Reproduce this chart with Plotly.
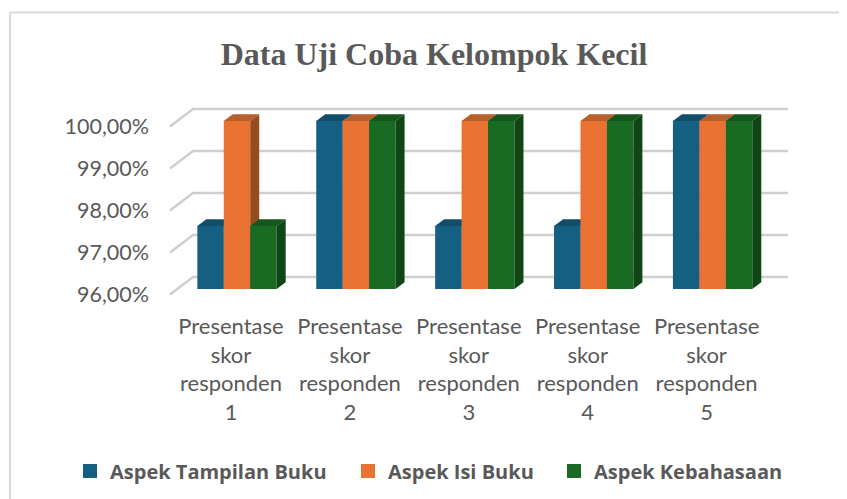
import plotly.graph_objects as go

categories = ["Presentase<br>skor<br>responden<br>1", "Presentase<br>skor<br>responden<br>2",
              "Presentase<br>skor<br>responden<br>3", "Presentase<br>skor<br>responden<br>4",
              "Presentase<br>skor<br>responden<br>5"]
series_names = ["Aspek Tampilan Buku", "Aspek Isi Buku", "Aspek Kebahasaan"]
tampilan = [97.5, 100.0, 97.5, 97.5, 100.0]
isi = [100.0, 100.0, 100.0, 100.0, 100.0]
kebahasaan = [97.5, 100.0, 100.0, 100.0, 100.0]
y_ticks = [96, 97, 98, 99, 100]
y_labels = ["96,00%", "97,00%", "98,00%", "99,00%", "100,00%"]
front = ["#156082", "#E97132", "#196B24"]
top = ["#124E69", "#B85F2E", "#14561D"]
side = ["#0F4761", "#974C20", "#104516"]
all_series = [tampilan, isi, kebahasaan]

# Screen pixel layout (the page body adds an 8 px margin round the figure)
OFF = 8
SW, SH = 847, 499
W, H = SW, SH
PL, PR, PT, PB = 150, 800, 95, 300
PX_X = 118.9          # px per category
PX_Y = 42.0           # px per percent
X0_PX, Y0_PX = 237.0, 289.0   # pixel of category 0 / 96 %
x_range = [(PL - X0_PX) / PX_X, (PR - X0_PX) / PX_X]
y_range = [96 + (Y0_PX - PB) / PX_Y, 96 + (Y0_PX - PT) / PX_Y]
bar_w = 26.45 / PX_X
dx, dy = 9.0 / PX_X, 6.7 / PX_Y

def px(p): return (p - PL) / (PR - PL)
def py(p): return (PB - p) / (PB - PT)
def cx(p): return (p - OFF) / W
def cy(p): return 1 - (p - OFF) / H

fig = go.Figure()

# walls: gridlines with their diagonal on the side wall
gx, gy = [], []
for t in y_ticks:
    gx += [(170 - X0_PX) / PX_X, (193 - X0_PX) / PX_X, (788 - X0_PX) / PX_X, None]
    gy += [t - 5.5 / PX_Y, t + 12 / PX_Y, t + 12 / PX_Y, None]
fig.add_trace(go.Scatter(x=gx, y=gy, mode="lines", line=dict(color="#CFCFCF", width=2.5),
                         showlegend=False, hoverinfo="skip", xaxis="x", yaxis="y"))

for j, (name, vals) in enumerate(zip(series_names, all_series)):
    xa, ya = f"x{j + 2}", f"y{j + 2}"
    centers = [i + (j - 1) * bar_w for i in range(len(vals))]
    tx, ty, sx, sy = [], [], [], []
    for c, v in zip(centers, vals):
        l, r = c - bar_w / 2, c + bar_w / 2
        tx += [l, r, r + dx, l + dx, l, None]
        ty += [v, v, v + dy, v + dy, v, None]
        sx += [r, r + dx, r + dx, r, r, None]
        sy += [96, 96 + dy, v + dy, v, 96, None]
    fig.add_trace(go.Bar(x=centers, y=[v - 96 for v in vals], base=96, width=bar_w,
                         marker=dict(color=front[j], line=dict(width=0)), name=name,
                         showlegend=False, xaxis=xa, yaxis=ya))
    for fx, fy, col in ((tx, ty, top[j]), (sx, sy, side[j])):
        fig.add_trace(go.Scatter(x=fx, y=fy, mode="lines", fill="toself", fillcolor=col,
                                 line=dict(width=0), showlegend=False, hoverinfo="skip",
                                 xaxis=xa, yaxis=ya))

# legend entries, one independent legend each so the uneven spacing can be kept
legend_ids = ["legend", "legend2", "legend3"]
legend_left = [70, 348, 554]
for j, name in enumerate(series_names):
    fig.add_trace(go.Scatter(x=[None], y=[None], mode="markers", name=name, legend=legend_ids[j],
                             marker=dict(symbol="square", size=14, color=front[j])))

layout = dict(
    width=W, height=H, autosize=False,
    margin=dict(l=PL - OFF, r=W + OFF - PR, t=PT - OFF, b=H + OFF - PB),
    paper_bgcolor="white", plot_bgcolor="rgba(0,0,0,0)",
    title=dict(text="<b>Data Uji Coba Kelompok Kecil</b>", x=cx(434), xanchor="center",
               y=cy(54), yanchor="middle",
               font=dict(family="Liberation Serif", size=32, color="#595959")),
    xaxis=dict(range=x_range, tickmode="array", tickvals=[i - 6 / PX_X for i in range(5)],
               ticktext=categories, showgrid=False, zeroline=False, showline=False, ticks="",
               ticklabelstandoff=11, tickangle=0, automargin=False,
               tickfont=dict(family="Lato", size=22, color="#595959")),
    yaxis=dict(range=y_range, tickmode="array", tickvals=[t - 5 / PX_Y for t in y_ticks],
               ticktext=y_labels, showgrid=False, zeroline=False, showline=False, ticks="",
               automargin=False,
               tickfont=dict(family="Lato", size=21.5, color="#595959")),
    barmode="overlay",
    shapes=[dict(type="line", xref="paper", yref="paper", x0=px(10), x1=px(SW + OFF), y0=py(12.5), y1=py(12.5),
                 line=dict(color="#D9D9D9", width=2), layer="below"),
            dict(type="line", xref="paper", yref="paper", x0=px(10), x1=px(10), y0=py(12.5), y1=py(SH + OFF),
                 line=dict(color="#D9D9D9", width=2), layer="below")],
)
for lid, left in zip(legend_ids, legend_left):
    layout[lid] = dict(orientation="h", xref="container", yref="container", x=cx(left), xanchor="left",
                       y=cy(471), yanchor="middle", bgcolor="rgba(0,0,0,0)",
                       font=dict(family="Open Sans", size=20, color="#595959", weight="bold"))
for k in (2, 3, 4):
    layout[f"xaxis{k}"] = dict(overlaying="x", range=x_range, visible=False)
    layout[f"yaxis{k}"] = dict(overlaying="y", range=y_range, visible=False)
fig.update_layout(**layout)
fig.write_html("out.html")
